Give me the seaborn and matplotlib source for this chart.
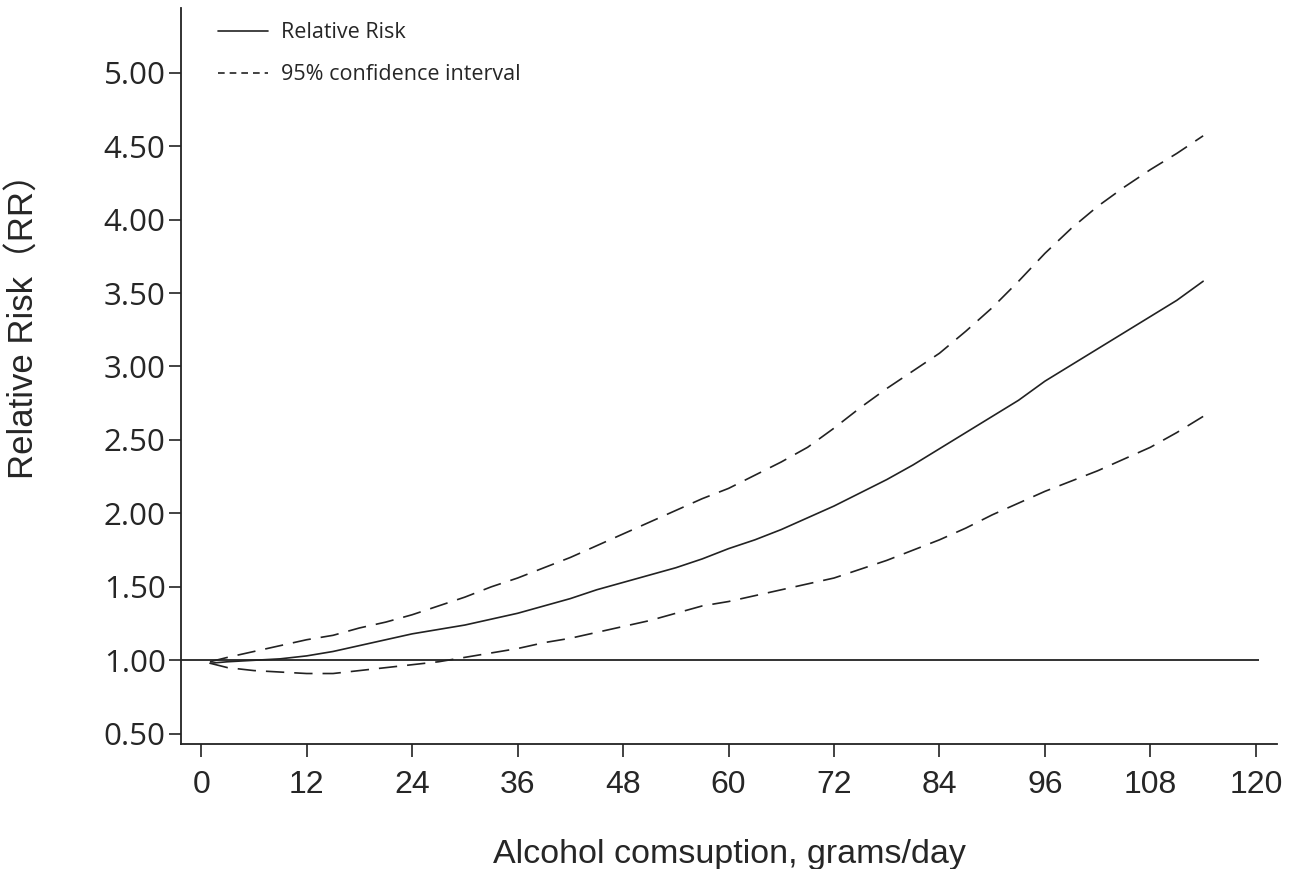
import matplotlib
matplotlib.use('Agg')
import matplotlib.pyplot as plt
from matplotlib.lines import Line2D
import seaborn as sns
import pandas as pd

# Données
dose = [1, 3, 6, 9, 12, 15, 18, 21, 24, 27, 30, 33, 36, 39, 42, 45, 48, 51, 54, 57,
        60, 63, 66, 69, 72, 75, 78, 81, 84, 87, 90, 93, 96, 99, 102, 105, 108, 111, 114]
rr = [0.98, 0.99, 1.00, 1.01, 1.03, 1.06, 1.10, 1.14, 1.18, 1.21, 1.24, 1.28, 1.32, 1.37,
      1.42, 1.48, 1.53, 1.58, 1.63, 1.69, 1.76, 1.82, 1.89, 1.97, 2.05, 2.14, 2.23, 2.33,
      2.44, 2.55, 2.66, 2.77, 2.90, 3.01, 3.12, 3.23, 3.34, 3.45, 3.58]
ci_upper = [0.99, 1.02, 1.06, 1.10, 1.14, 1.17, 1.22, 1.26, 1.31, 1.37, 1.43, 1.50, 1.56,
            1.63, 1.70, 1.78, 1.86, 1.94, 2.02, 2.10, 2.17, 2.26, 2.35, 2.45, 2.58, 2.72,
            2.85, 2.97, 3.09, 3.24, 3.40, 3.58, 3.77, 3.94, 4.09, 4.22, 4.34, 4.45, 4.57]
ci_lower = [0.98, 0.95, 0.93, 0.92, 0.91, 0.91, 0.93, 0.95, 0.97, 0.99, 1.02, 1.05, 1.08,
            1.12, 1.15, 1.19, 1.23, 1.27, 1.32, 1.37, 1.40, 1.44, 1.48, 1.52, 1.56, 1.62,
            1.68, 1.75, 1.82, 1.90, 1.99, 2.07, 2.15, 2.22, 2.29, 2.37, 2.45, 2.55, 2.66]
x_ticks = [0, 12, 24, 36, 48, 60, 72, 84, 96, 108, 120]
y_ticks = [0.5, 1.0, 1.5, 2.0, 2.5, 3.0, 3.5, 4.0, 4.5, 5.0]
ref_rr = 1.0

df = pd.DataFrame({'dose': dose, 'rr': rr, 'upper': ci_upper, 'lower': ci_lower})

sns.set_style('ticks')
line_col = '#222222'
dash_style = (0, (11, 6))

fig = plt.figure(figsize=(12.9, 8.69), dpi=100)
ax = fig.add_axes([0.1403, 0.1438, 0.8496, 0.8470])

ax.hlines(ref_rr, -2.3, 120.4, color=line_col, linewidth=1.3)
sns.lineplot(data=df, x='dose', y='rr', ax=ax, color=line_col, linewidth=1.2)
sns.lineplot(data=df, x='dose', y='upper', ax=ax, color=line_col, linewidth=1.2, linestyle=dash_style)
sns.lineplot(data=df, x='dose', y='lower', ax=ax, color=line_col, linewidth=1.2, linestyle=dash_style)

ax.set_xlim(-2.3, 122.4)
ax.set_ylim(0.43, 5.44)
ax.set_xticks(x_ticks)
ax.set_xticklabels([str(t) for t in x_ticks], fontsize=23, family='Liberation Sans')
ax.set_yticks(y_ticks)
ax.set_yticklabels([f'{t:.2f}' for t in y_ticks], fontsize=22.5, family='Open Sans')
ax.tick_params(axis='both', direction='out', length=9, width=1.2, color=line_col)
ax.tick_params(axis='x', pad=10)
ax.tick_params(axis='y', pad=2)

for side in ['top', 'right']:
    ax.spines[side].set_visible(False)
for side in ['left', 'bottom']:
    ax.spines[side].set_color(line_col)
    ax.spines[side].set_linewidth(1.3)

ax.set_xlabel('Alcohol comsuption, grams/day', fontsize=24.5, family='Liberation Sans', labelpad=28)
ax.set_ylabel('Relative Risk（RR）', fontsize=25, family=['Liberation Sans', 'Noto Sans CJK SC'])
ax.yaxis.set_label_coords(-0.128, 0.58)

handles = [Line2D([0], [0], color=line_col, linewidth=1.2),
           Line2D([0], [0], color=line_col, linewidth=1.2, linestyle=(0, (4, 3)))]
leg = ax.legend(handles, ['Relative Risk', '95% confidence interval'],
                loc='upper left', bbox_to_anchor=(0.0165, 1.007), frameon=False,
                prop={'family': 'Open Sans', 'size': 15.5}, handlelength=2.3,
                handletextpad=0.6, labelspacing=0.97)

plt.savefig('out.png', dpi=100)
